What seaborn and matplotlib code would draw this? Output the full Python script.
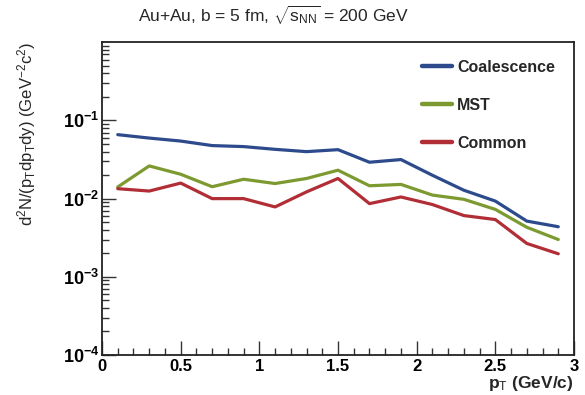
import numpy as np
import pandas as pd
import matplotlib
matplotlib.use("Agg")
import matplotlib.pyplot as plt
from matplotlib.lines import Line2D
from matplotlib.ticker import (LogLocator, MultipleLocator, FixedLocator,
                               NullFormatter, FuncFormatter)
import seaborn as sns

# transverse-momentum bin centres (GeV/c)
pt = [0.1, 0.3, 0.5, 0.7, 0.9, 1.1, 1.3, 1.5, 1.7, 1.9, 2.1, 2.3, 2.5, 2.7, 2.9]

# invariant yields per model
coalescence = [0.0658, 0.0595, 0.0545, 0.0477, 0.0463, 0.0427, 0.0399, 0.0423,
               0.0292, 0.0316, 0.0199, 0.0128, 0.0093, 0.00516, 0.00437]
mst = [0.0141, 0.0262, 0.0205, 0.0142, 0.0177, 0.0156, 0.0181, 0.0231,
       0.0146, 0.0152, 0.0111, 0.0098, 0.00728, 0.0043, 0.0030]
common = [0.0134, 0.0125, 0.0158, 0.0100, 0.0100, 0.00783, 0.0122, 0.0181,
          0.00863, 0.0105, 0.0084, 0.00607, 0.0054, 0.00267, 0.00197]

series_names = ["Coalescence", "MST", "Common"]
series_colors = ["#2c4a8c", "#7d9a30", "#b22e36"]

df = pd.concat([
    pd.DataFrame({"pt": pt, "yield": vals, "model": name})
    for name, vals in zip(series_names, [coalescence, mst, common])
])

sns.set_theme(style="ticks")
plt.rcParams["font.family"] = ["Liberation Sans", "DejaVu Sans"]
plt.rcParams["mathtext.fontset"] = "custom"
plt.rcParams["mathtext.rm"] = "Liberation Sans"
plt.rcParams["mathtext.it"] = "Liberation Sans"
plt.rcParams["mathtext.bf"] = "Liberation Sans:bold"

fig = plt.figure(figsize=(5.85, 3.95), dpi=100)
ax = fig.add_axes([0.1744, 0.1013, 0.8068, 0.7917])

sns.lineplot(data=df, x="pt", y="yield", hue="model", hue_order=series_names,
             palette=series_colors, linewidth=2.3, ax=ax, legend=False)

ax.set_yscale("log")
ax.set_xlim(0, 3)
ax.set_ylim(1e-4, 1)

ax.xaxis.set_major_locator(MultipleLocator(0.5))
ax.xaxis.set_minor_locator(MultipleLocator(0.1))
ax.xaxis.set_major_formatter(FuncFormatter(lambda v, p: f"{v:g}"))
ax.yaxis.set_major_locator(FixedLocator([1e-4, 1e-3, 1e-2, 1e-1]))
ax.yaxis.set_major_formatter(
    FuncFormatter(lambda v, p: r"$\mathbf{10^{%d}}$" % round(np.log10(v))))
ax.yaxis.set_minor_locator(LogLocator(base=10, subs=np.arange(2, 10), numticks=20))
ax.yaxis.set_minor_formatter(NullFormatter())

ax.tick_params(which="major", direction="in", length=10, width=1.0,
               labelsize=12, pad=3, top=False, right=False, colors="#333333",
               labelcolor="black")
ax.tick_params(which="minor", direction="in", length=5, width=1.0,
               top=False, right=False, colors="#333333")
ax.tick_params(axis="y", which="major", pad=2, labelsize=13)
for lbl in ax.get_xticklabels():
    lbl.set_fontweight("bold")
for sp in ax.spines.values():
    sp.set_linewidth(1.3)
    sp.set_color("#222222")

ax.set_xlabel(r"p$_{\mathrm{T}}$ (GeV/c)", loc="right", fontsize=12.5,
              fontweight="bold", labelpad=0)
ax.set_ylabel(r"d$^{2}$N/(p$_{\mathrm{T}}$dp$_{\mathrm{T}}$dy) (GeV$^{-2}$c$^{2}$)",
              loc="top", fontsize=12, labelpad=18)

# legend drawn with plain line handles
handles = [Line2D([], [], color=c, linewidth=3.2) for c in series_colors]
leg = ax.legend(handles, series_names, loc="upper right", frameon=False,
                handlelength=1.9, handletextpad=0.3,
                labelspacing=1.45, bbox_to_anchor=(0.99, 0.99),
                prop={"weight": "bold", "size": 11.5})

fig.text(0.468, 0.962, r"Au+Au, b = 5 fm, $\sqrt{s_{NN}}$ = 200 GeV",
         ha="center", va="center", fontsize=12.5)

fig.savefig("out.png", dpi=100, facecolor="white")
